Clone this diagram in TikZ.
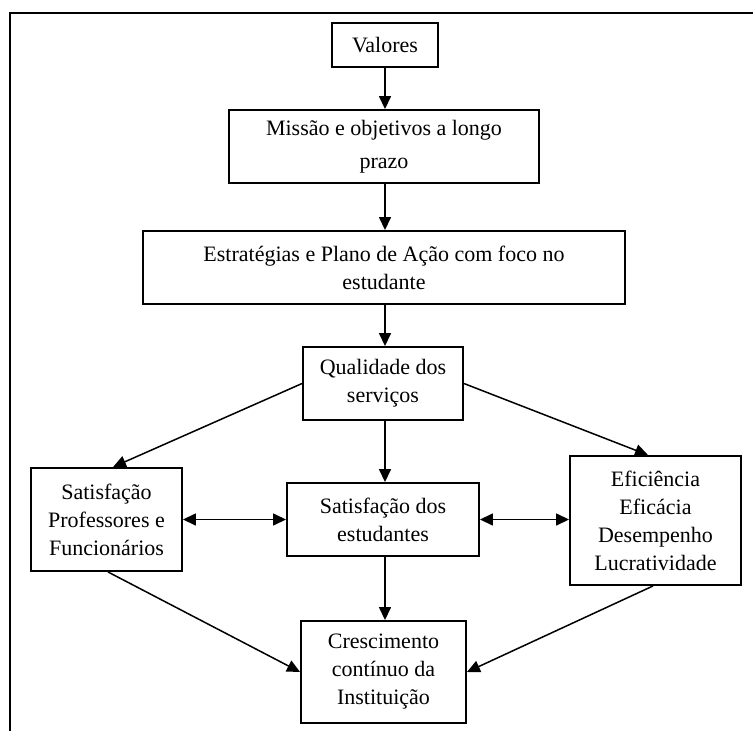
\documentclass[tikz,border=0pt]{standalone}
\usepackage{fontspec}
\setmainfont{Liberation Serif}
\usetikzlibrary{arrows.meta}
\begin{document}
\begin{tikzpicture}[x=1pt,y=-1pt,
  box/.style={draw,line width=1.9pt,align=center,inner sep=0pt,font=\fontsize{22}{28}\selectfont},
  arr/.style={line width=1.5pt,-{Triangle[length=13pt,width=12pt]}},
  biarr/.style={line width=1.5pt,{Triangle[length=13pt,width=12pt]}-{Triangle[length=13pt,width=12pt]}}]
\useasboundingbox (0,0) rectangle (753,731);
\draw[line width=1.6pt] (753,13) -- (10,13) -- (10,731);
\node[box,minimum width=106pt,minimum height=44pt] (val) at (385,45) {Valores};
\node[box,minimum width=310pt,minimum height=73pt] (mis) at (384,146.5) {Missão e objetivos a longo\\[5pt]prazo};
\node[box,minimum width=482pt,minimum height=73pt] (est) at (384,267.5) {Estratégias e Plano de Ação com foco no\\estudante};
\node[box,minimum width=160pt,minimum height=73pt] (qua) at (383,383.5) {Qualidade dos\\serviços};
\node[box,minimum width=151pt,minimum height=103pt] (sp) at (106.5,519.5) {Satisfação\\Professores e\\Funcionários};
\node[box,minimum width=192pt,minimum height=73pt] (se) at (383,519.5) {Satisfação dos\\estudantes};
\node[box,minimum width=171pt,minimum height=129pt] (ef) at (655.5,520.5) {Eficiência\\Eficácia\\Desempenho\\Lucratividade};
\node[box,minimum width=165pt,minimum height=102pt] (cr) at (383.5,672) {Crescimento\\contínuo da\\Instituição};
\draw[arr] (val.south) -- (val.south |- mis.north);
\draw[arr] (val.south |- mis.south) -- (val.south |- est.north);
\draw[arr] (val.south |- est.south) -- (val.south |- qua.north);
\draw[arr] (val.south |- qua.south) -- (val.south |- se.north);
\draw[arr] (val.south |- se.south) -- (val.south |- cr.north);
\draw[arr] (qua.west) -- ([xshift=6.5pt]sp.north);
\draw[arr] (qua.east) -- ([xshift=-7.5pt]ef.north);
\draw[biarr] (sp.east) -- (se.west);
\draw[biarr] (se.east) -- (se.east -| ef.west);
\draw[arr] ([xshift=1.5pt]sp.south) -- (cr.west);
\draw[arr] ([xshift=-2.5pt]ef.south) -- (cr.east);
\end{tikzpicture}
\end{document}
